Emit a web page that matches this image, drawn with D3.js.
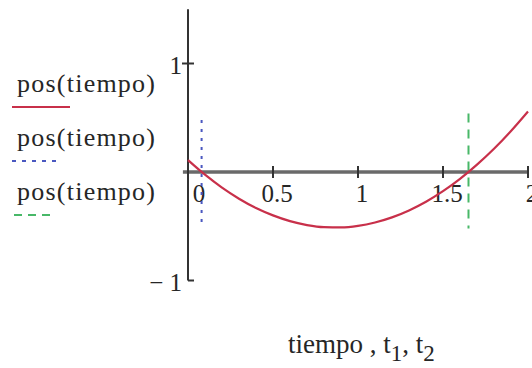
<!DOCTYPE html>
<html>
<head>
<meta charset="utf-8">
<script src="https://cdn.jsdelivr.net/npm/d3@7"></script>
<style>
  body { margin: 0; background: #fff; }
  svg text { font-family: "Times New Roman", "Liberation Serif"; }
</style>
</head>
<body>
<svg id="chart" width="532" height="368"></svg>
<script>
// pos(tiempo) sampled along tiempo
const tiempo = [0, 0.1, 0.2, 0.3, 0.4, 0.5, 0.6, 0.7, 0.8, 0.9, 1.0,
                1.1, 1.2, 1.3, 1.4, 1.5, 1.6, 1.7, 1.8, 1.9, 2.0];
const pos = [0.11, -0.025, -0.144, -0.246, -0.332, -0.40, -0.453, -0.489, -0.508, -0.510, -0.496,
             -0.465, -0.418, -0.354, -0.274, -0.177, -0.063, 0.068, 0.214, 0.378, 0.558];

// roots t1, t2 and the vertical extent of their markers
const t1 = 0.08;
const t2 = 1.65;
const t1Span = [-0.51, 0.48];
const t2Span = [-0.52, 0.54];

const xTicks = [0, 0.5, 1, 1.5, 2];
const xTickLabels = ["0", "0.5", "1", "1.5", "2"];
const yTicks = [-1, 1];
const yTickLabels = ["\u2212 1", "1"];
const legendLabels = ["pos(tiempo)", "pos(tiempo)", "pos(tiempo)"];

const svg = d3.select("#chart");
const ink = "#262626";
const serif = "Times New Roman";

const x = d3.scaleLinear().domain([0, 2]).range([188, 528]);
const y = d3.scaleLinear().domain([-1, 1.5]).range([280.5, 9.25]);

const red = "#c8304a", blue = "#4a58c0", green = "#48b868";

// axes crossing at the origin
const xAxis = svg.append("g").attr("transform", `translate(0,${y(0)})`);
xAxis.append("line")
  .attr("x1", x(-0.03)).attr("x2", x(2) + 1)
  .attr("stroke", "#6a6a6a").attr("stroke-width", 3.5);
xAxis.selectAll("line.tick").data(xTicks.slice(1)).join("line")
  .attr("class", "tick")
  .attr("x1", d => x(d)).attr("x2", d => x(d))
  .attr("y1", -6).attr("y2", 6)
  .attr("stroke", "#333").attr("stroke-width", 2);
xAxis.selectAll("text").data(xTicks).join("text")
  .attr("x", d => x(d)).attr("dx", d => d === 0 ? 11 : 4)
  .attr("y", 30)
  .attr("text-anchor", "middle")
  .attr("font-family", serif)
  .style("font-size", "25px")
  .attr("fill", ink)
  .text((d, i) => xTickLabels[i]);

const yAxis = svg.append("g").attr("transform", `translate(${x(0)},0)`);
yAxis.append("line")
  .attr("y1", y(1.5)).attr("y2", y(-1))
  .attr("stroke", "#333").attr("stroke-width", 2);
yAxis.selectAll("line.tick").data(yTicks).join("line")
  .attr("class", "tick")
  .attr("x1", d => d === -1 ? 0 : -6).attr("x2", 6)
  .attr("y1", d => y(d)).attr("y2", d => y(d))
  .attr("stroke", "#333").attr("stroke-width", 2);
yAxis.selectAll("text").data(yTicks).join("text")
  .attr("x", -6)
  .attr("y", d => y(d) + 10)
  .attr("text-anchor", "end")
  .attr("font-family", serif)
  .style("font-size", "25px")
  .attr("fill", ink)
  .text((d, i) => yTickLabels[i]);

// root markers
svg.append("line")
  .attr("x1", x(t1)).attr("x2", x(t1))
  .attr("y1", y(t1Span[1])).attr("y2", y(t1Span[0]))
  .attr("stroke", blue).attr("stroke-width", 2)
  .attr("stroke-dasharray", "3,6");
svg.append("line")
  .attr("x1", x(t2)).attr("x2", x(t2))
  .attr("y1", y(t2Span[1])).attr("y2", y(t2Span[0]))
  .attr("stroke", green).attr("stroke-width", 2)
  .attr("stroke-dasharray", "9,7");

// pos(tiempo) curve
const line = d3.line().x(d => x(d[0])).y(d => y(d[1])).curve(d3.curveMonotoneX);
svg.append("path")
  .datum(tiempo.map((t, i) => [t, pos[i]]))
  .attr("d", line)
  .attr("fill", "none")
  .attr("stroke", red).attr("stroke-width", 2.2);

// legend
const legendStyles = [
  { color: red, dash: null, x1: 12, x2: 70 },
  { color: blue, dash: "4,6", x1: 12, x2: 56 },
  { color: green, dash: "8,6", x1: 14, x2: 52 }
];
const legend = svg.append("g");
legendLabels.forEach((lab, i) => {
  const base = 92 + i * 54;
  legend.append("text")
    .attr("x", 17).attr("y", base)
    .attr("font-family", serif)
    .style("font-size", "26px")
    .attr("fill", ink)
    .attr("textLength", 138).attr("lengthAdjust", "spacing")
    .text(lab);
  legend.append("line")
    .attr("x1", legendStyles[i].x1).attr("x2", legendStyles[i].x2)
    .attr("y1", base + 15).attr("y2", base + 15)
    .attr("stroke", legendStyles[i].color).attr("stroke-width", 2)
    .attr("stroke-dasharray", legendStyles[i].dash);
});

// horizontal axis title
const title = svg.append("text")
  .attr("x", 288).attr("y", 353)
  .attr("font-family", serif)
  .style("font-size", "27px")
  .attr("fill", ink);
title.append("tspan").text("tiempo , t");
title.append("tspan").attr("dy", 8).style("font-size", "23px").text("1");
title.append("tspan").attr("dy", -8).text(", t");
title.append("tspan").attr("dy", 8).style("font-size", "23px").text("2");
</script>
</body>
</html>
